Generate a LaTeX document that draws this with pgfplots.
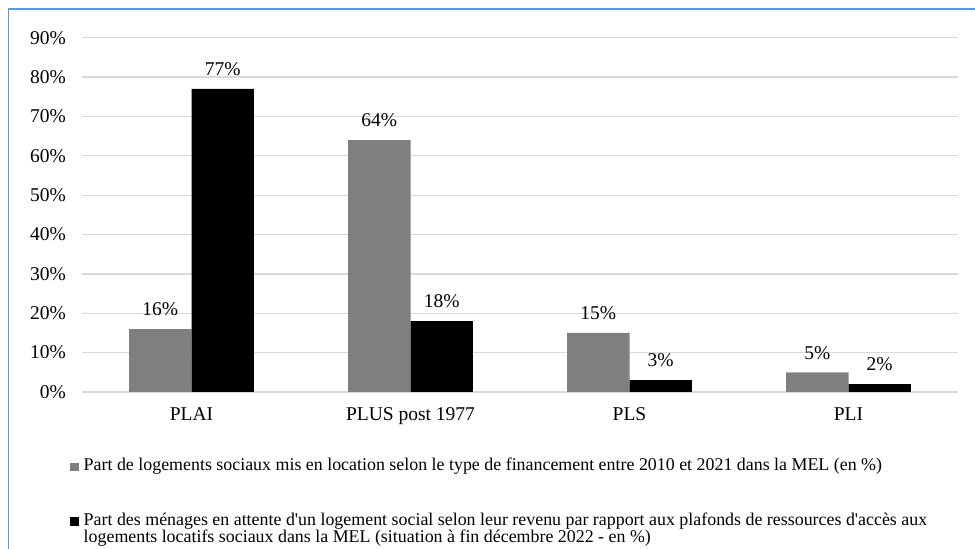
\documentclass[border=0pt]{standalone}
\usepackage{pgfplots}
\pgfplotsset{compat=1.18}
\usepackage{fontspec}
\setmainfont{Liberation Serif}
\definecolor{barGrey}{RGB}{127,127,127}
\definecolor{gridGrey}{RGB}{217,217,217}
\definecolor{frameBlue}{RGB}{91,155,213}
\begin{document}
\begin{tikzpicture}
\path[use as bounding box] (0,0) rectangle (975pt,549pt);
\draw[frameBlue, line width=1.5pt] (8.5pt,0pt) -- (8.5pt,540pt) -- (975pt,540pt);
\begin{axis}[
  at={(82pt,157pt)}, anchor=south west,
  scale only axis, width=876pt, height=354.3pt,
  ybar=0pt, bar width=62.3pt,
  xmin=-0.5, xmax=3.5, ymin=0, ymax=90,
  xtick=data, xticklabels={PLAI, PLUS post 1977, PLS, PLI},
  ytick={0,10,...,90},
  ymajorgrids, grid style={gridGrey, line width=1.3pt},
  major tick length=0pt, tick style={draw=none},
  axis line style={draw=none},
  /pgf/number format/assume math mode=true,
  yticklabel={\pgfmathprintnumber{\tick}\%},
  ticklabel style={font=\fontsize{19.5}{20}\selectfont},
  yticklabel style={xshift=-12.5pt},
  xticklabel style={yshift=-12pt},
  nodes near coords={\pgfmathprintnumber{\pgfplotspointmeta}\%},
  every node near coord/.append style={font=\fontsize{19.5}{20}\selectfont, yshift=9.5pt, black},
  legend cell align=left,
  legend style={at={(-0.0137,-0.1860)}, anchor=north west, draw=none, fill=none,
    inner sep=0pt, row sep=40.5pt, column sep=5pt,
    font=\fontsize{17.9}{17.5}\selectfont,
    nodes={inner sep=0pt}, cells={anchor=base west}},
]
\addplot[fill=barGrey, draw=none,
  legend image code/.code={\fill[barGrey] (0pt,-0.3pt) rectangle (8.5pt,8.2pt);}]
  coordinates {(0,16) (1,64) (2,15) (3,5)};
\addlegendentry{Part de logements sociaux mis en location selon le type de financement entre 2010 et 2021 dans la MEL (en \%)}
\addplot[fill=black, draw=none,
  legend image code/.code={\fill[black] (0pt,-0.3pt) rectangle (8.5pt,8.2pt);}]
  coordinates {(0,77) (1,18) (2,3) (3,2)};
\addlegendentry{\parbox[t]{900pt}{Part des ménages en attente d\textquotesingle un logement social selon leur revenu par rapport aux plafonds de ressources d\textquotesingle accès aux\\logements locatifs sociaux dans la MEL (situation à fin décembre 2022 - en \%)}}
\end{axis}
\end{tikzpicture}
\end{document}
